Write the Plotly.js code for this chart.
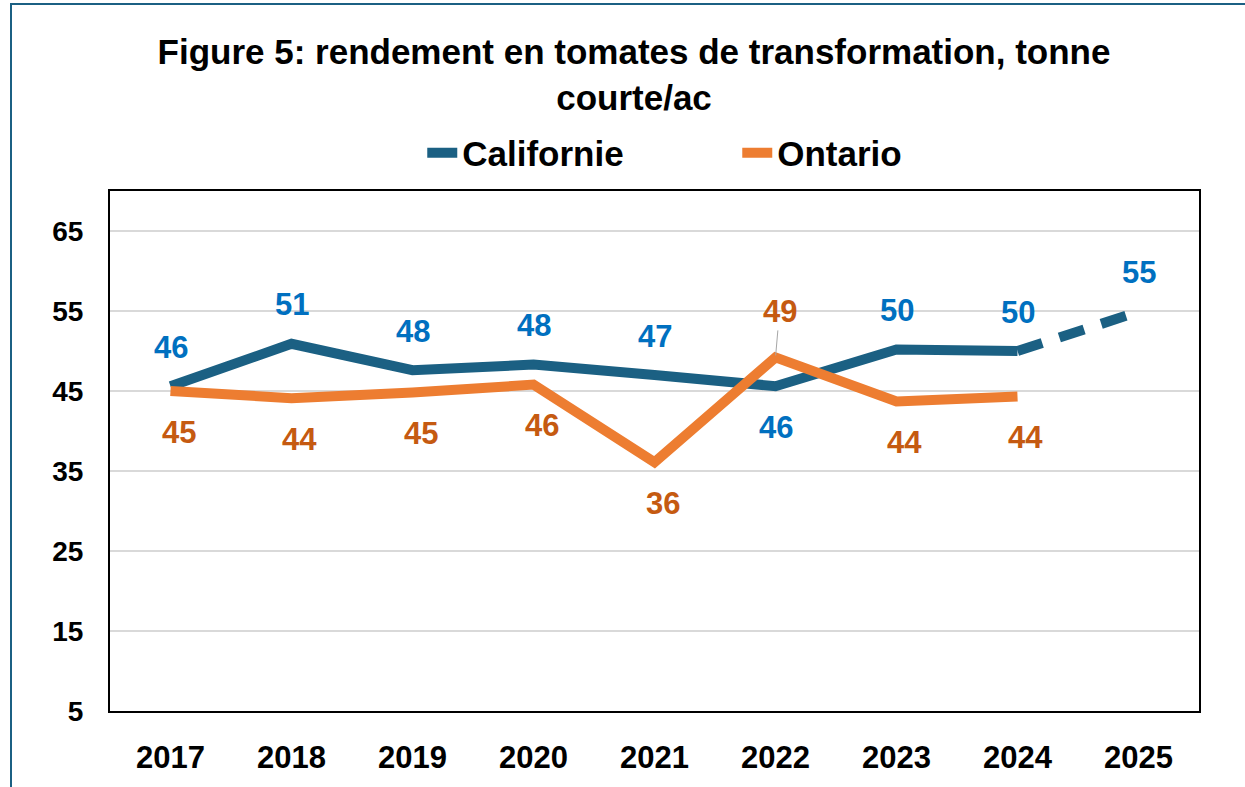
<!DOCTYPE html>
<html>
<head>
<meta charset="utf-8">
<script src="https://cdn.plot.ly/plotly-3.0.1.min.js"></script>
<style>
html,body{margin:0;padding:0;background:#fff;}
#chart{width:1245px;height:787px;}
</style>
</head>
<body>
<div id="chart"></div>
<script>
// ---- data ----
var years = ['2017','2018','2019','2020','2021','2022','2023','2024','2025'];
var californie = [45.6, 50.9, 47.6, 48.3, 47.0, 45.6, 50.2, 50.0, 54.9];
var ontario = [45.0, 44.1, 44.8, 45.8, 36.1, 49.2, 43.7, 44.3];
var seriesNames = ['Californie', 'Ontario'];
var yTicks = [5, 15, 25, 35, 45, 55, 65];
var titleText = 'Figure 5: rendement en tomates de transformation, tonne<br>courte/ac';

// ---- styles ----
var calColor = '#1B6083';
var ontColor = '#ED7D31';
var calLabel = '#0070C0';
var ontLabel = '#C55A11';
var narrow = '"Liberation Sans Narrow", "Arial Narrow", "Liberation Sans", Arial, sans-serif';
var wide = '"Liberation Sans", Arial, sans-serif';

var nActual = 8; // California actual years, 2025 is projected
var traces = [
  {x: years.slice(0, nActual), y: californie.slice(0, nActual), name: seriesNames[0], type: 'scatter', mode: 'lines',
   line: {color: calColor, width: 10}, hoverinfo: 'x+y'},
  {x: years.slice(0, ontario.length), y: ontario, name: seriesNames[1], type: 'scatter', mode: 'lines',
   line: {color: ontColor, width: 10}, hoverinfo: 'x+y'},
  {x: years.slice(nActual - 1), y: californie.slice(nActual - 1), name: seriesNames[0] + ' (prévision)', type: 'scatter', mode: 'lines',
   line: {color: calColor, width: 10, dash: '26px,18px'}, showlegend: false, hoverinfo: 'x+y'}
];

var labelFont = function (c) { return {family: narrow, size: 31, color: c, weight: 700}; };
var annotations = [];
californie.forEach(function (v, i) {
  var o = ontario[i];
  var above = (o === undefined) || v >= o;
  annotations.push({x: i, y: v, xref: 'x', yref: 'y', text: String(Math.round(v)), showarrow: false,
    yshift: above ? 39 : -41, font: labelFont(calLabel)});
});
ontario.forEach(function (v, i) {
  var c = californie[i];
  var above = v > c;
  if (above) {
    annotations.push({x: i, y: v, xref: 'x', yref: 'y', text: String(Math.round(v)), showarrow: true,
      arrowhead: 0, arrowwidth: 1, arrowcolor: '#A6A6A6', ax: 4, ay: -46, standoff: 2,
      font: labelFont(ontLabel)});
  } else {
    annotations.push({x: i, y: v, xref: 'x', yref: 'y', text: String(Math.round(v)), showarrow: false,
      xshift: 8, yshift: -41, font: labelFont(ontLabel)});
  }
});

var layout = {
  width: 1245, height: 787,
  paper_bgcolor: '#ffffff', plot_bgcolor: '#ffffff',
  margin: {l: 110, r: 46, t: 191, b: 76},
  title: {text: titleText, x: 634 / 1245, xanchor: 'center', xref: 'container',
          y: 1 - 64 / 787, yanchor: 'top', yref: 'container',
          font: {family: wide, size: 35, color: '#000', weight: 700}},
  showlegend: true,
  legend: {orientation: 'h', x: 0.576, xanchor: 'center', y: 1.073, yanchor: 'middle',
           font: {family: wide, size: 35, color: '#000', weight: 700}, entrywidth: 270, bgcolor: 'rgba(0,0,0,0)'},
  xaxis: {type: 'category', range: [-0.5, years.length - 0.5], showgrid: false, zeroline: false,
          showline: true, linecolor: '#000', linewidth: 2, mirror: true, ticks: '',
          ticklabelstandoff: 18,
          tickfont: {family: narrow, size: 31, color: '#000', weight: 700}, fixedrange: true},
  yaxis: {range: [5, 70], tickvals: yTicks, ticktext: yTicks.map(String), showgrid: true, gridcolor: '#D9D9D9', gridwidth: 1.5,
          zeroline: false, showline: true, linecolor: '#000', linewidth: 2, mirror: true, ticks: '',
          ticklabelstandoff: 19,
          tickfont: {family: narrow, size: 28, color: '#000', weight: 700}, fixedrange: true},
  annotations: annotations,
  shapes: [
    {type: 'rect', xref: 'paper', yref: 'paper', x0: (11 - 110) / 1089, x1: 1.2, y0: -0.3, y1: (711 - 4) / 520,
     line: {color: calColor, width: 2}, fillcolor: 'rgba(0,0,0,0)', layer: 'below'}
  ]
};

Plotly.newPlot('chart', traces, layout, {displayModeBar: false, staticPlot: true});
</script>
</body>
</html>
